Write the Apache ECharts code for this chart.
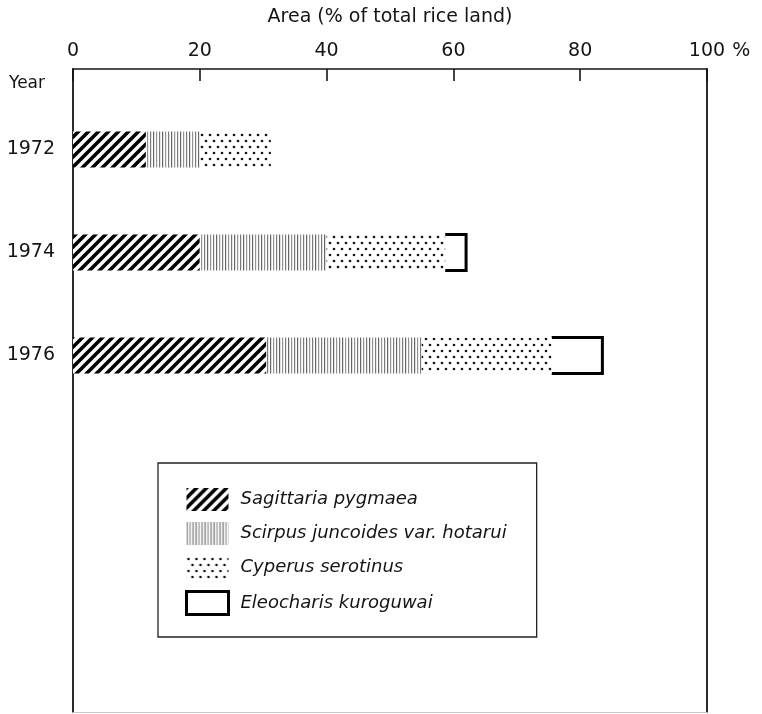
<!DOCTYPE html>
<html>
<head>
<meta charset="utf-8">
<script src="https://cdn.jsdelivr.net/npm/echarts@6/dist/echarts.min.js"></script>
<style>
  html, body { margin: 0; padding: 0; background: #fff; }
  #chart { width: 762px; height: 714px; }
</style>
</head>
<body>
<div id="chart"></div>
<script>
// Years shown on the vertical axis
const years = ['1972', '1974', '1976'];
// Weed species (legend order)
const species = ['Sagittaria pygmaea', 'Scirpus juncoides var. hotarui', 'Cyperus serotinus', 'Eleocharis kuroguwai'];
// Area infested, % of total rice land, per species and year
const sagittaria = [11.5, 20, 30.5];
const scirpus = [8.5, 20, 24.5];
const cyperus = [11.2, 18.7, 20.5];
const eleocharis = [0, 3.3, 8];

const FONT = 'DejaVu Sans';
const INK = '#141414';

// Fill textures
function makeTile(w, h, draw) {
  const c = document.createElement('canvas');
  c.width = w; c.height = h;
  const ctx = c.getContext('2d');
  ctx.fillStyle = '#fff';
  ctx.fillRect(0, 0, w, h);
  draw(ctx);
  return { image: c, repeat: 'repeat' };
}
const hatch = makeTile(10, 10, ctx => {
  ctx.strokeStyle = '#000';
  ctx.lineWidth = 3.6;
  ctx.beginPath();
  ctx.moveTo(-2, 12); ctx.lineTo(12, -2);
  ctx.moveTo(-2, 2); ctx.lineTo(2, -2);
  ctx.moveTo(8, 12); ctx.lineTo(12, 8);
  ctx.stroke();
});
const vlines = makeTile(9, 4, ctx => {
  const greys = ['#666', '#939393', '#7a7a7a'];
  greys.forEach((g, i) => { ctx.fillStyle = g; ctx.fillRect(i * 3, 0, 1.2, 4); });
});
const dots = makeTile(8, 12, ctx => {
  ctx.fillStyle = '#111';
  [[2, 3], [6, 9]].forEach(([x, y]) => {
    ctx.beginPath(); ctx.arc(x, y, 1.3, 0, Math.PI * 2); ctx.fill();
  });
});

// Open-ended outline segment sitting after the stacked bars
const eleoData = years.map((y, i) => {
  const start = sagittaria[i] + scirpus[i] + cyperus[i];
  return [start, start + eleocharis[i], i];
}).filter((d, i) => eleocharis[i] > 0);

const chart = echarts.init(document.getElementById('chart'), null, { renderer: 'canvas' });

const barBase = {
  type: 'bar', stack: 'area', barWidth: 36,
  xAxisIndex: 2, yAxisIndex: 2, silent: true
};
const frameAxis = {
  axisTick: { show: false }, axisLabel: { show: false }, splitLine: { show: false }
};

chart.setOption({
  animation: false,
  backgroundColor: '#fff',
  grid: [
    { left: 73, right: 55, top: 69, bottom: 2 },
    { left: 73, right: 55, top: 98, height: 309 }
  ],
  xAxis: [
    {
      gridIndex: 0, type: 'value', position: 'top', min: 0, max: 100, interval: 20,
      name: 'Area (% of total rice land)', nameLocation: 'middle', nameGap: 42,
      nameTextStyle: { fontFamily: FONT, fontSize: 19, color: INK },
      axisLine: { show: true, onZero: false, lineStyle: { color: INK, width: 1.6 } },
      axisTick: { show: true, inside: true, length: 12, lineStyle: { color: INK, width: 1.6 } },
      splitLine: { show: false },
      axisLabel: {
        margin: 8, fontFamily: FONT, fontSize: 19, color: INK,
        formatter: v => v === 100 ? '{pad|}100{pct| %}' : String(v),
        rich: {
          pad: { width: 26, fontFamily: FONT, fontSize: 19 },
          pct: { width: 26, fontFamily: FONT, fontSize: 19, color: INK }
        }
      }
    },
    Object.assign({
      gridIndex: 0, type: 'value', position: 'bottom', min: 0, max: 100,
      axisLine: { show: true, onZero: false, lineStyle: { color: '#c8c8c8', width: 1 } }
    }, frameAxis),
    {
      gridIndex: 1, type: 'value', min: 0, max: 100, show: false
    }
  ],
  yAxis: [
    Object.assign({
      gridIndex: 0, type: 'value', min: 0, max: 1, position: 'left',
      name: 'Year', nameLocation: 'end', nameGap: -15,
      nameTextStyle: { fontFamily: FONT, fontSize: 17, color: INK, align: 'right', verticalAlign: 'middle', padding: [0, 28, 0, 0] },
      axisLine: { show: true, onZero: false, lineStyle: { color: INK, width: 1.8 } }
    }, frameAxis),
    Object.assign({
      gridIndex: 0, type: 'value', min: 0, max: 1, position: 'right',
      axisLine: { show: true, onZero: false, lineStyle: { color: INK, width: 1.8 } }
    }, frameAxis),
    {
      gridIndex: 1, type: 'category', inverse: true, data: years,
      axisLine: { show: false }, axisTick: { show: false }, splitLine: { show: false },
      axisLabel: { margin: 18, fontFamily: FONT, fontSize: 19, color: INK }
    }
  ],
  legend: {
    orient: 'vertical', left: 158, top: 463,
    padding: [25, 30, 21, 27],
    itemWidth: 42, itemHeight: 23, itemGap: 11,
    borderColor: '#222', borderWidth: 1.3, borderRadius: 0,
    selectedMode: false,
    textStyle: { fontFamily: FONT, fontSize: 18, fontStyle: 'italic', color: INK, padding: [0, 0, 0, 7] },
    data: [
      { name: species[0], icon: 'rect' },
      { name: species[1], icon: 'rect' },
      { name: species[2], icon: 'rect' },
      { name: species[3], icon: 'rect', itemStyle: { color: '#fff', borderColor: '#000', borderWidth: 3 } }
    ]
  },
  series: [
    Object.assign({}, barBase, { name: species[0], data: sagittaria, itemStyle: { color: hatch } }),
    Object.assign({}, barBase, { name: species[1], data: scirpus, itemStyle: { color: vlines } }),
    Object.assign({}, barBase, { name: species[2], data: cyperus, itemStyle: { color: dots } }),
    {
      type: 'custom', name: species[3], xAxisIndex: 2, yAxisIndex: 2, silent: true,
      itemStyle: { color: '#fff', borderColor: '#000', borderWidth: 3 },
      encode: { x: [0, 1], y: 2 },
      data: eleoData,
      renderItem: (params, api) => {
        const a = api.coord([api.value(0), api.value(2)]);
        const b = api.coord([api.value(1), api.value(2)]);
        const h = 36 / 2;
        return {
          type: 'polyline',
          shape: { points: [[a[0], a[1] - h], [b[0], b[1] - h], [b[0], b[1] + h], [a[0], a[1] + h]] },
          style: { stroke: '#000', lineWidth: 3, fill: null, lineJoin: 'miter' }
        };
      }
    }
  ]
});
</script>
</body>
</html>
